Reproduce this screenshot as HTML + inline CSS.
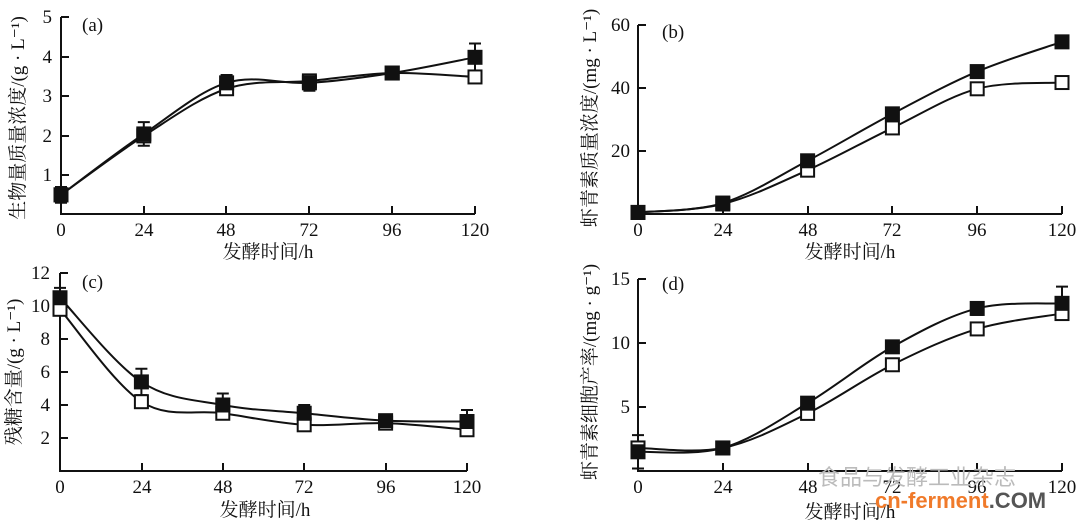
<!DOCTYPE html>
<html><head><meta charset="utf-8"><style>
html,body{margin:0;padding:0;background:#fff;width:1080px;height:523px;overflow:hidden}
svg text{font-family:"Liberation Serif","Noto Serif CJK SC",serif;fill:#111}
.t{font-size:19px}
.l{font-size:19px}
</style></head><body>
<svg id="s" width="1080" height="523" viewBox="0 0 1080 523" xmlns="http://www.w3.org/2000/svg">
<g stroke="#111" stroke-width="2" fill="none">
<path d="M61,17 V214 H475 M61,17 h8 M61,57 h8 M61,96 h8 M61,136 h8 M61,175 h8 M144,214 v-8 M226,214 v-8 M309,214 v-8 M392,214 v-8 M475,214 v-8"/>
<path d="M638,25 V214 H1062 M638,25 h8 M638,88 h8 M638,151 h8 M723,214 v-8 M808,214 v-8 M892,214 v-8 M977,214 v-8 M1062,214 v-8"/>
<path d="M60,273 V471 H467 M60,273 h8 M60,306 h8 M60,339 h8 M60,372 h8 M60,405 h8 M60,438 h8 M142,471 v-8 M223,471 v-8 M304,471 v-8 M386,471 v-8 M467,471 v-8"/>
<path d="M638,279 V471 H1062 M638,279 h8 M638,343 h8 M638,407 h8 M723,471 v-8 M808,471 v-8 M892,471 v-8 M977,471 v-8 M1062,471 v-8"/>
</g>
<g id="data"></g>
<g class="t" text-anchor="end">
<text x="52" y="23">5</text><text x="52" y="63">4</text><text x="52" y="102">3</text><text x="52" y="142">2</text><text x="52" y="181">1</text>
<text x="630" y="31">60</text><text x="630" y="94">40</text><text x="630" y="157">20</text>
<text x="50" y="279">12</text><text x="50" y="312">10</text><text x="50" y="345">8</text><text x="50" y="378">6</text><text x="50" y="411">4</text><text x="50" y="444">2</text>
<text x="630" y="285">15</text><text x="630" y="349">10</text><text x="630" y="413">5</text>
</g>
<g class="t" text-anchor="middle">
<text x="61" y="236">0</text><text x="144" y="236">24</text><text x="226" y="236">48</text><text x="309" y="236">72</text><text x="392" y="236">96</text><text x="475" y="236">120</text>
<text x="638" y="236">0</text><text x="723" y="236">24</text><text x="808" y="236">48</text><text x="892" y="236">72</text><text x="977" y="236">96</text><text x="1062" y="236">120</text>
<text x="60" y="493">0</text><text x="142" y="493">24</text><text x="223" y="493">48</text><text x="304" y="493">72</text><text x="386" y="493">96</text><text x="467" y="493">120</text>
<text x="638" y="493">0</text><text x="723" y="493">24</text><text x="808" y="493">48</text><text x="892" y="493">72</text><text x="977" y="493">96</text><text x="1062" y="493">120</text>
<text x="268" y="258">发酵时间/h</text><text x="850" y="258">发酵时间/h</text>
<text x="265" y="516">发酵时间/h</text><text x="850" y="518">发酵时间/h</text>
</g>
<g class="t">
<text x="82" y="31">(a)</text><text x="662" y="38">(b)</text><text x="82" y="288">(c)</text><text x="662" y="290">(d)</text>
</g>
<g class="l" text-anchor="middle">
<text transform="translate(24,118) rotate(-90)">生物量质量浓度/(g · L⁻¹)</text>
<text transform="translate(596,118) rotate(-90)">虾青素质量浓度/(mg · L⁻¹)</text>
<text transform="translate(20,372) rotate(-90)">残糖含量/(g · L⁻¹)</text>
<text transform="translate(596,372) rotate(-90)">虾青素细胞产率/(mg · g⁻¹)</text>
</g>
<text x="818" y="485" style="font-family:'Liberation Sans','Noto Sans CJK SC',sans-serif;font-size:22px;fill:#bbb">食品与发酵工业杂志</text>
<text x="875" y="508" style="font-family:'Liberation Sans',sans-serif;font-size:22px;font-weight:bold;fill:#f07a2a">cn-ferment<tspan fill="#555">.COM</tspan></text>
</svg>
<script>
const P=[
 {x0:61,x1:475,y0:214.5,ys:39.3,f:[.5,2.05,3.35,3.35,3.6,4.0],o:[.5,2.0,3.2,3.4,3.6,3.5],e:[.2,.3,.2,.2,.15,.35]},
 {x0:638,x1:1062,y0:214,ys:3.13,f:[.5,3.5,17,32,45.5,55],o:[.5,3.2,14,27.5,40,42],e:[0,0,0,0,0,0]},
 {x0:60,x1:467,y0:471,ys:16.5,f:[10.5,5.4,4.0,3.5,3.05,3.0],o:[9.8,4.2,3.5,2.8,2.9,2.5],e:[.6,.8,.7,.5,.3,.7]},
 {x0:638,x1:1062,y0:471,ys:12.8,f:[1.5,1.8,5.3,9.7,12.7,13.1],o:[1.8,1.8,4.5,8.3,11.1,12.3],e:[1.3,.2,.3,.3,.5,1.3]}
];
let h='';
function path(pts){let d='M'+pts[0].join(',');for(let i=0;i<pts.length-1;i++){const p0=pts[i-1]||pts[i],p1=pts[i],p2=pts[i+1],p3=pts[i+2]||p2;
const c1=[p1[0]+(p2[0]-p0[0])/6,p1[1]+(p2[1]-p0[1])/6],c2=[p2[0]-(p3[0]-p1[0])/6,p2[1]-(p3[1]-p1[1])/6];d+=` C${c1} ${c2} ${p2}`;}return d;}
P.forEach(p=>{const X=i=>p.x0+(p.x1-p.x0)*i/5,Y=v=>p.y0-v*p.ys;
 ['o','f'].forEach(k=>{const pts=p[k].map((v,i)=>[X(i),Y(v)]);h+=`<path d="${path(pts)}" stroke="#111" stroke-width="2" fill="none"/>`;});
 p.f.forEach((v,i)=>{if(p.e[i]){const x=X(i);h+=`<path d="M${x},${Y(v+p.e[i])}V${Y(v-p.e[i])}M${x-6},${Y(v+p.e[i])}h12M${x-6},${Y(v-p.e[i])}h12" stroke="#111" stroke-width="2"/>`;}});
 p.o.forEach((v,i)=>{h+=`<rect x="${X(i)-6.5}" y="${Y(v)-6.5}" width="13" height="13" fill="#fff" stroke="#111" stroke-width="2"/>`;});
 p.f.forEach((v,i)=>{h+=`<rect x="${X(i)-7.5}" y="${Y(v)-7.5}" width="15" height="15" fill="#111"/>`;});
});
document.getElementById('data').innerHTML=h;
</script>
</body></html>
